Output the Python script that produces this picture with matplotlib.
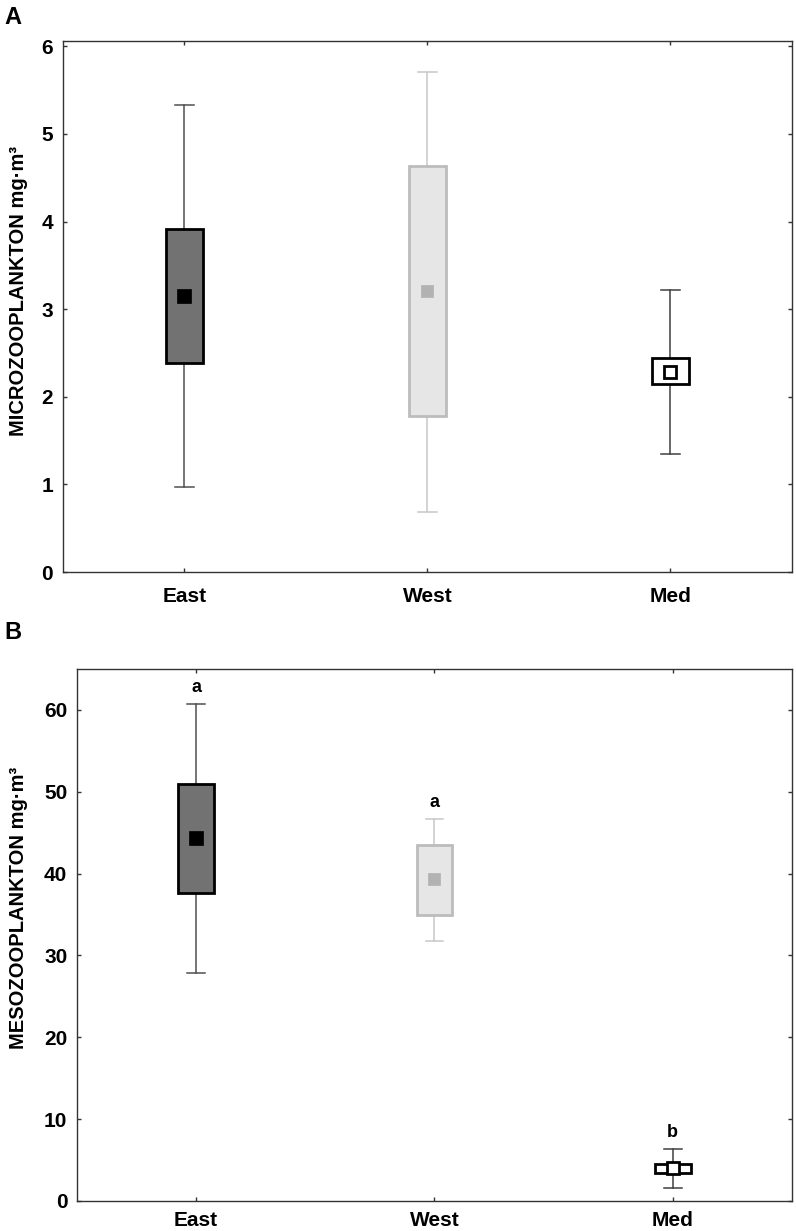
import matplotlib
matplotlib.use("Agg")
import matplotlib.pyplot as plt

plt.rcParams['font.family'] = ['Liberation Sans', 'DejaVu Sans']
plt.rcParams['font.weight'] = 'bold'

# Regions (x categories)
regions = ['East', 'West', 'Med']

# Panel A - microzooplankton (mg m-3)
micro_lo = [0.97, 0.69, 1.35]
micro_q1 = [2.38, 1.78, 2.15]
micro_mean = [3.15, 3.21, 2.28]
micro_q3 = [3.92, 4.63, 2.44]
micro_hi = [5.33, 5.71, 3.22]

# Panel B - mesozooplankton (mg m-3)
meso_lo = [27.9, 31.75, 1.6]
meso_q1 = [37.65, 34.9, 3.44]
meso_mean = [44.3, 39.4, 4.0]
meso_q3 = [51.0, 43.5, 4.52]
meso_hi = [60.7, 46.65, 6.4]
meso_letters = ['a', 'a', 'b']

# colours per region
box_face = ['#727272', '#e6e6e6', 'white']
box_edge = ['black', '#bcbcbc', 'black']
whisk_col = ['#505050', '#c8c8c8', '#404040']
mean_face = ['black', '#b2b2b2', 'white']
mean_edge = ['black', '#b2b2b2', 'black']
mean_ms = [9.5, 8.2, 8.6]
mean_mew = [0.5, 0.5, 2.0]


def draw_panel(ax, lo, q1, mean, q3, hi, width, xpad):
    stats = []
    for i in range(len(regions)):
        stats.append(dict(whislo=lo[i], q1=q1[i], med=mean[i], mean=mean[i],
                          q3=q3[i], whishi=hi[i], label=regions[i]))
    art = ax.bxp(stats, positions=range(len(regions)), widths=width,
                 capwidths=0.075, patch_artist=True, showmeans=True,
                 showfliers=False, medianprops=dict(visible=False))
    for i in range(len(regions)):
        art['boxes'][i].set(facecolor=box_face[i], edgecolor=box_edge[i],
                            linewidth=2.0, zorder=3)
        for ln in art['whiskers'][2 * i:2 * i + 2] + art['caps'][2 * i:2 * i + 2]:
            ln.set(color=whisk_col[i], linewidth=1.1, zorder=2)
        art['means'][i].set(marker='s', markerfacecolor=mean_face[i],
                            markeredgecolor=mean_edge[i], markersize=mean_ms[i],
                            markeredgewidth=mean_mew[i], zorder=4)
    ax.set_xlim(-0.5, len(regions) - 0.5)
    ax.tick_params(direction='in', length=3, width=1, top=True, right=True,
                   labelsize=15, color='#333333')
    ax.tick_params(axis='y', pad=7)
    ax.tick_params(axis='x', pad=xpad)
    for s in ax.spines.values():
        s.set_color('#333333')
        s.set_linewidth(1.0)
    for lab in ax.get_xticklabels() + ax.get_yticklabels():
        lab.set_fontweight('bold')


fig = plt.figure(figsize=(7.96, 12.31), dpi=100)

axA = fig.add_axes([0.0791, 0.5353, 0.9158, 0.4314])
draw_panel(axA, micro_lo, micro_q1, micro_mean, micro_q3, micro_hi, 0.15, 11)
axA.set_ylim(0, 6.06)
axA.set_yticks([0, 1, 2, 3, 4, 5, 6])
axA.set_ylabel('MICROZOOPLANKTON mg·m³', fontsize=14.5, fontweight='bold')
axA.yaxis.set_label_coords(-0.048, 0.53)

axB = fig.add_axes([0.0967, 0.0244, 0.8982, 0.4321])
draw_panel(axB, meso_lo, meso_q1, meso_mean, meso_q3, meso_hi, 0.15, 7)
axB.set_ylim(0, 65)
axB.set_yticks([0, 10, 20, 30, 40, 50, 60])
axB.set_ylabel('MESOZOOPLANKTON mg·m³', fontsize=14.5, fontweight='bold')
axB.yaxis.set_label_coords(-0.068, 0.55)
for i, let in enumerate(meso_letters):
    axB.text(i, meso_hi[i] + 2.0, let, ha='center', va='center',
             fontsize=13, fontweight='bold')

fig.text(0.006, 0.986, 'A', fontsize=17, fontweight='bold', va='center')
fig.text(0.006, 0.486, 'B', fontsize=17, fontweight='bold', va='center')

fig.savefig('out.png', dpi=100)
